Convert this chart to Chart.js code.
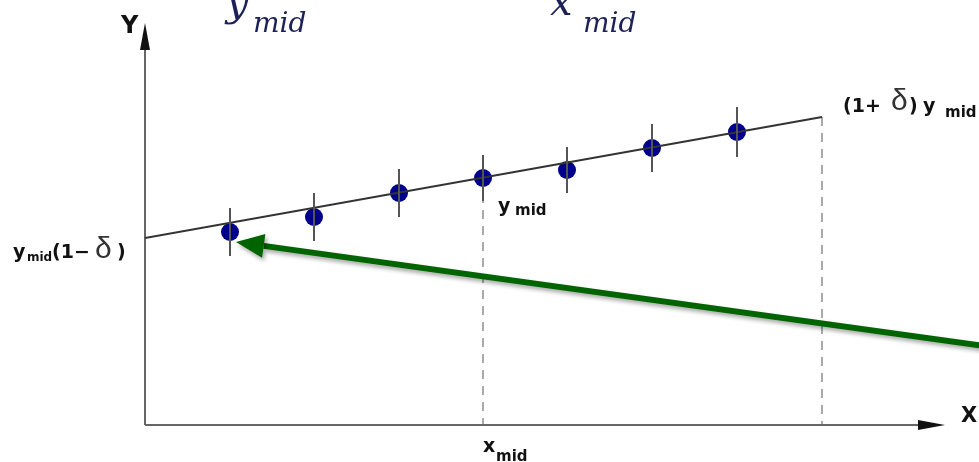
<!DOCTYPE html>
<html>
<head>
<meta charset="utf-8">
<script src="https://cdn.jsdelivr.net/npm/chart.js@4/dist/chart.umd.min.js"></script>
<style>
  html,body{margin:0;padding:0;background:#fff;}
  canvas{display:block;}
</style>
</head>
<body>
<canvas id="c" width="979" height="462"></canvas>
<script>
// measurement points (x, y, error)
const xPts = [85, 169, 254, 338, 422, 507, 592];
const yPts = [193, 208, 232, 247, 255, 277, 293];
const yErr = [24, 24, 24, 23, 23, 24, 25];

// straight line from y_mid(1-d) to (1+d) y_mid
const fitX = [0, 677];
const fitY = [187, 308];

// dashed markers: x_mid and right end of the range
const dashX = [338, 677];
const dashTop = [247, 308];

// green arrow (tail, tip)
const arrowX = [840, 91];
const arrowY = [79, 183];

const xMax = 800, yMax = 402;

function txt(ctx, s, x, y, f) {
  ctx.font = f;
  ctx.fillText(s, x, y);
}

const diagram = {
  id: 'diagram',
  beforeDatasetsDraw(chart) {
    const {ctx, scales:{x, y}} = chart;
    const x0 = x.getPixelForValue(0), y0 = y.getPixelForValue(0);
    const xe = x.getPixelForValue(xMax), ye = y.getPixelForValue(yMax);
    ctx.save();
    // dashed verticals
    ctx.strokeStyle = '#aaa'; ctx.lineWidth = 2; ctx.setLineDash([9, 7]);
    dashX.forEach((v, i) => {
      const px = Math.round(x.getPixelForValue(v));
      ctx.beginPath();
      ctx.moveTo(px, y.getPixelForValue(dashTop[i]));
      ctx.lineTo(px, y0);
      ctx.stroke();
    });
    ctx.setLineDash([]);
    // axes
    ctx.strokeStyle = '#666'; ctx.lineWidth = 2;
    ctx.beginPath();
    ctx.moveTo(x0, y0); ctx.lineTo(x0, ye + 20);
    ctx.moveTo(x0, y0); ctx.lineTo(xe - 20, y0);
    ctx.stroke();
    ctx.fillStyle = '#111';
    ctx.beginPath();
    ctx.moveTo(x0, ye); ctx.lineTo(x0 - 5, ye + 27); ctx.lineTo(x0 + 5, ye + 27); ctx.closePath();
    ctx.fill();
    ctx.beginPath();
    ctx.moveTo(xe, y0); ctx.lineTo(xe - 27, y0 - 5); ctx.lineTo(xe - 27, y0 + 5); ctx.closePath();
    ctx.fill();
    ctx.restore();
  },
  afterDatasetsDraw(chart) {
    const {ctx, scales:{x, y}} = chart;
    ctx.save();
    // error bars
    ctx.strokeStyle = '#555'; ctx.lineWidth = 2;
    xPts.forEach((v, i) => {
      const px = Math.round(x.getPixelForValue(v));
      ctx.beginPath();
      ctx.moveTo(px, y.getPixelForValue(yPts[i] + yErr[i]));
      ctx.lineTo(px, y.getPixelForValue(yPts[i] - yErr[i]));
      ctx.stroke();
    });

    // labels
    ctx.fillStyle = '#111';
    ctx.textBaseline = 'alphabetic';
    const B = 'bold 19px "DejaVu Sans", sans-serif';
    const Bs = 'bold 15px "DejaVu Sans", sans-serif';
    const Bss = 'bold 12px "DejaVu Sans", sans-serif';
    const D = '30px "Liberation Sans", sans-serif';
    const x0 = x.getPixelForValue(0), y0 = y.getPixelForValue(0);
    const xm = x.getPixelForValue(dashX[0]);
    const xr = x.getPixelForValue(dashX[1]);

    txt(ctx, 'Y', x0 - 24, 33, 'bold 24px "DejaVu Sans", sans-serif');
    txt(ctx, 'X', x.getPixelForValue(xMax) + 16, 422, 'bold 21px "DejaVu Sans", sans-serif');

    // x mid under the axis
    txt(ctx, 'x', xm, y0 + 27, B);
    txt(ctx, 'mid', xm + 13, y0 + 36, Bs);

    // y mid next to the middle point
    const my = y.getPixelForValue(dashTop[0]) + 34;
    txt(ctx, 'y', xm + 15, my, B);
    txt(ctx, 'mid', xm + 32, my + 3, Bs);

    // (1+ d) y mid
    const ry = y.getPixelForValue(dashTop[1]) - 5;
    txt(ctx, '(1+', xr + 21, ry, B);
    ctx.fillStyle = '#333';
    txt(ctx, '\u03B4', xr + 69, ry - 2, D);
    ctx.fillStyle = '#111';
    txt(ctx, ')', xr + 87, ry, B);
    txt(ctx, 'y', xr + 101, ry, B);
    txt(ctx, 'mid', xr + 123, ry + 5, Bs);

    // y mid (1-d)
    const ly = y.getPixelForValue(fitY[0]) + 20;
    txt(ctx, 'y', 13, ly, B);
    txt(ctx, 'mid', 27, ly + 3, Bss);
    txt(ctx, '(1\u2212', 52, ly, B);
    ctx.fillStyle = '#333';
    txt(ctx, '\u03B4', 95, ly, D);
    ctx.fillStyle = '#111';
    txt(ctx, ')', 117, ly, B);

    // cut-off title pieces at the top
    ctx.fillStyle = '#1c2257';
    const I1 = 'italic 40px "DejaVu Serif", serif';
    const I2 = 'italic 28px "DejaVu Serif", serif';
    txt(ctx, 'y', 226, 16, I1);
    txt(ctx, 'mid', 253, 32, I2);
    txt(ctx, 'x', 550, 15, I1);
    txt(ctx, 'mid', 583, 32, I2);
    ctx.restore();
  },
  afterDraw(chart) {
    const {ctx, scales:{x, y}} = chart;
    const tx = x.getPixelForValue(arrowX[0]), ty = y.getPixelForValue(arrowY[0]);
    const hx = x.getPixelForValue(arrowX[1]), hy = y.getPixelForValue(arrowY[1]);
    const a = Math.atan2(ty - hy, tx - hx);
    const L = 28, W = 12;
    const bx = hx + Math.cos(a) * L, by = hy + Math.sin(a) * L;
    ctx.save();
    ctx.shadowColor = 'rgba(0,0,0,0.35)';
    ctx.shadowBlur = 4; ctx.shadowOffsetX = 2; ctx.shadowOffsetY = 3;
    ctx.strokeStyle = '#006400'; ctx.fillStyle = '#006400';
    ctx.lineWidth = 6;
    ctx.beginPath(); ctx.moveTo(tx, ty); ctx.lineTo(bx, by); ctx.stroke();
    ctx.beginPath();
    ctx.moveTo(hx, hy);
    ctx.lineTo(bx + Math.sin(a) * W, by - Math.cos(a) * W);
    ctx.lineTo(bx - Math.sin(a) * W, by + Math.cos(a) * W);
    ctx.closePath(); ctx.fill();
    ctx.restore();
  }
};

new Chart(document.getElementById('c'), {
  type: 'scatter',
  data: {
    datasets: [
      { data: fitX.map((v, i) => ({x: v, y: fitY[i]})), showLine: true,
        borderColor: '#333', borderWidth: 2, pointRadius: 0 },
      { data: xPts.map((v, i) => ({x: v, y: yPts[i]})),
        backgroundColor: '#00008b', borderWidth: 0, pointRadius: 9 }
    ]
  },
  options: {
    responsive: false, animation: false,
    layout: { padding: { left: 145, right: 34, top: 23, bottom: 37 } },
    scales: {
      x: { type: 'linear', min: 0, max: xMax, display: false },
      y: { type: 'linear', min: 0, max: yMax, display: false }
    },
    plugins: { legend: { display: false }, tooltip: { enabled: false } }
  },
  plugins: [diagram]
});
</script>
</body>
</html>
